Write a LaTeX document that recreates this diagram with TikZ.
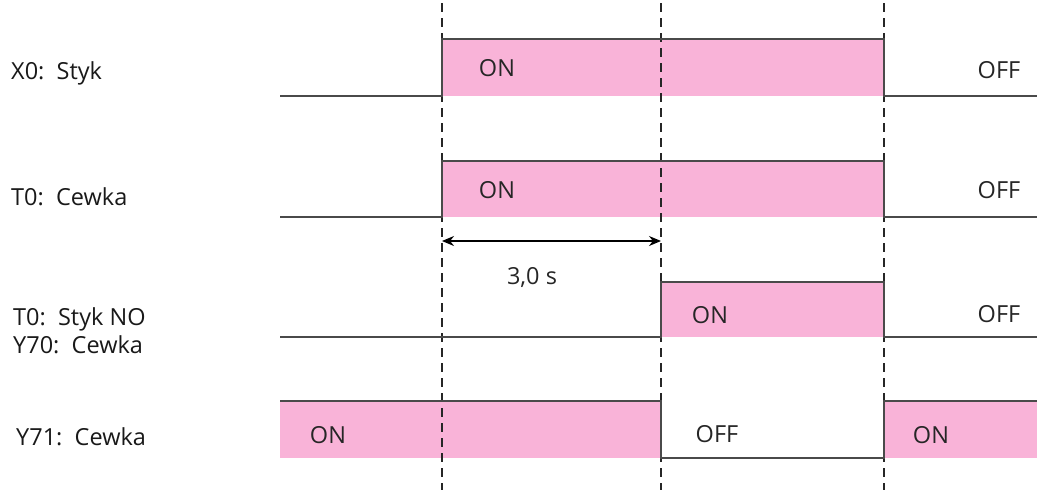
\documentclass[tikz,border=0pt]{standalone}
\usepackage{fontspec}
\setmainfont{Open Sans}
\usetikzlibrary{arrows.meta}
\definecolor{onpink}{HTML}{F9B3D8}
\definecolor{sigline}{HTML}{4A4A4A}

\begin{document}
\begin{tikzpicture}[x=1pt, y=-1pt, >={Stealth[length=12pt,width=10pt]},
  signal/.style={draw=sigline, line width=1.6pt, line join=miter},
  onarea/.style={fill=onpink},
  timeline/.style={black!85, line width=1.3pt, dash pattern=on 9pt off 6pt},
  lbl/.style={anchor=west, inner sep=0pt, text depth=0pt, text=black!90, font=\fontsize{23.5}{28}\selectfont},
  state/.style={inner sep=0pt, text depth=0pt, text=black!85, font=\fontsize{23.5}{28}\selectfont}]
  \useasboundingbox (0,0) rectangle (1045,496);

  % ON areas
  \fill[onarea] (442,39)  rectangle (884,96);
  \fill[onarea] (442,161) rectangle (884,217);
  \fill[onarea] (661,282) rectangle (884,337);
  \fill[onarea] (280,401) rectangle (661,458);
  \fill[onarea] (884,401) rectangle (1037,458);

  % time markers
  \foreach \t in {442,661,884}
    \draw[timeline] (\t,3) -- (\t,490);

  % signal traces
  \draw[signal] (280,96)  -- (442,96)  -- (442,39)  -- (884,39)  -- (884,96)  -- (1037,96);
  \draw[signal] (280,217) -- (442,217) -- (442,161) -- (884,161) -- (884,217) -- (1037,217);
  \draw[signal] (280,337) -- (661,337) -- (661,282) -- (884,282) -- (884,337) -- (1037,337);
  \draw[signal] (280,401) -- (661,401) -- (661,458) -- (884,458) -- (884,401) -- (1037,401);

  % signal names
  \node[lbl] (lx0)  at (11,71)  {X0:~~Styk};
  \node[lbl] (lt0c) at (11,197) {T0:~~Cewka};
  \node[lbl] (lt0s) at (13,317) {T0:~~Styk NO};
  \node[lbl] (ly70) at (13,345) {Y70:~~Cewka};
  \node[lbl] (ly71) at (16,437) {Y71:~~Cewka};

  % states
  \node[state] (x0on)   at (497,68)  {ON};
  \node[state] (x0off)  at (999,70)  {OFF};
  \node[state] (t0on)   at (497,190) {ON};
  \node[state] (t0off)  at (999,190) {OFF};
  \node[state] (y70on)  at (710,315) {ON};
  \node[state] (y70off) at (999,314) {OFF};
  \node[state] (y71on)  at (328,435) {ON};
  \node[state] (y71off) at (717,434) {OFF};
  \node[state] (y71on2) at (931,435) {ON};

  % delay
  \coordinate (d1) at (442,241);
  \coordinate (d2) at (661,241);
  \draw[<->, black, line width=1.2pt] (d1) -- (d2);
  \node[state] (dly) at (532,276) {3,0 s};
\end{tikzpicture}
\end{document}
